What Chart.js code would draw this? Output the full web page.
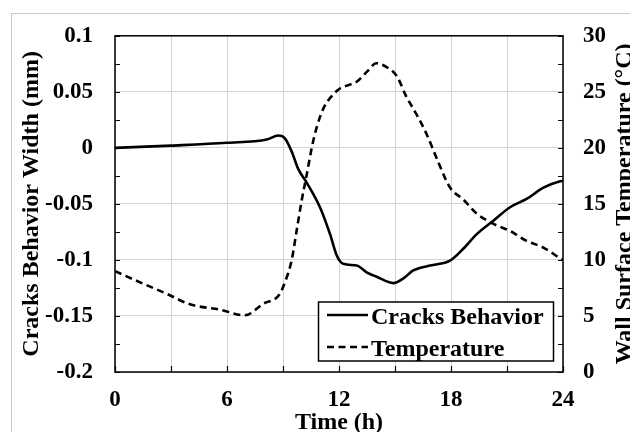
<!DOCTYPE html>
<html>
<head>
<meta charset="utf-8">
<script src="https://cdn.jsdelivr.net/npm/chart.js@4.4.1/dist/chart.umd.min.js"></script>
<style>
  html, body { margin: 0; padding: 0; background: #ffffff; }
  #wrap { width: 630px; height: 432px; }
</style>
</head>
<body>
<div id="wrap"><canvas id="c" width="630" height="432"></canvas></div>
<script>
// ---- Data ----
const crackHours = [0, 3, 6, 8.13, 8.75, 9.1, 9.46, 9.82, 10.27, 10.98, 11.52, 11.88, 12.23, 12.95, 13.48, 14.02, 14.91, 15.45, 15.98, 16.88, 17.95, 18.66, 19.38, 20.27, 21.16, 22.05, 22.95, 23.8, 24];
const crackWidth = [0, 0.002, 0.0045, 0.0075, 0.011, 0.0085, -0.003, -0.019, -0.031, -0.053, -0.077, -0.096, -0.1035, -0.105, -0.111, -0.115, -0.1207, -0.1165, -0.1094, -0.105, -0.1006, -0.09, -0.077, -0.065, -0.053, -0.0456, -0.0355, -0.030, -0.0295];

const tempHours = [0, 1.52, 2.77, 4.02, 5.63, 6.96, 7.95, 8.8, 9.1, 9.46, 9.73, 10.0, 10.27, 10.54, 10.8, 11.16, 11.6, 12.05, 12.5, 12.95, 13.5, 14.0, 14.55, 15.1, 15.6, 16.15, 16.7, 17.3, 17.95, 18.65, 19.4, 20.3, 21.15, 22.05, 22.95, 23.8, 24];
const temperature = [9.0, 7.87, 6.98, 6.04, 5.56, 5.06, 6.1, 6.9, 8.0, 9.94, 12.6, 15.3, 17.6, 20.0, 21.8, 23.5, 24.6, 25.3, 25.6, 25.9, 26.8, 27.55, 27.2, 26.4, 24.6, 23.0, 21.2, 18.8, 16.45, 15.4, 14.1, 13.2, 12.6, 11.7, 11.1, 10.2, 10.0];

const xTickLabels = ['0', '6', '12', '18', '24'];
const seriesNames = ['Cracks Behavior', 'Temperature'];
const axisTitles = { x: 'Time (h)', y: 'Cracks Behavior Width (mm)', y1: 'Wall Surface Temperature (°C)' };

// ---- Styling ----
const FONT_FAMILY = "'Liberation Serif', 'Times New Roman', serif";
const tickFont = { family: FONT_FAMILY, size: 23, weight: 'bold' };
const GRID = '#d3d3d3';

const crackPoints = crackHours.map((h, i) => ({ x: h, y: crackWidth[i] }));
const tempPoints = tempHours.map((h, i) => ({ x: h, y: temperature[i] }));

const decor = {
  id: 'decor',
  beforeDraw(chart) {
    const ctx = chart.ctx;
    ctx.save();
    ctx.fillStyle = '#ffffff';
    ctx.fillRect(0, 0, chart.width, chart.height);
    ctx.strokeStyle = '#c8c8c8';
    ctx.lineWidth = 1;
    ctx.strokeRect(11.5, 13.5, 800, 600);
    ctx.restore();
  },
  afterDraw(chart) {
    const ctx = chart.ctx;
    const a = chart.chartArea;
    const sx = chart.scales.x, sy = chart.scales.y, sy1 = chart.scales.y1;
    ctx.save();
    // plot border
    ctx.strokeStyle = '#000';
    ctx.lineWidth = 1.5;
    ctx.strokeRect(a.left, a.top, a.right - a.left, a.bottom - a.top);
    // inside tick marks
    ctx.lineWidth = 1.2;
    ctx.beginPath();
    for (let k = 0; k <= 12; k++) {
      const v = -0.2 + k * 0.025;
      const py = Math.round(sy.getPixelForValue(v)) + 0.5;
      ctx.moveTo(a.left, py); ctx.lineTo(a.left + 5, py);
    }
    for (let k = 0; k <= 12; k++) {
      const v = k * 2.5;
      const py = Math.round(sy1.getPixelForValue(v)) + 0.5;
      ctx.moveTo(a.right, py); ctx.lineTo(a.right - 5, py);
    }
    for (let k = 0; k <= 8; k++) {
      const px = Math.round(sx.getPixelForValue(k * 3)) + 0.5;
      ctx.moveTo(px, a.bottom); ctx.lineTo(px, a.bottom - 6);
    }
    ctx.stroke();

    // axis titles
    ctx.fillStyle = '#000';
    ctx.font = 'bold 24px ' + FONT_FAMILY;
    ctx.textAlign = 'center';
    ctx.textBaseline = 'alphabetic';
    ctx.fillText(axisTitles.x, (a.left + a.right) / 2, 429);
    ctx.save();
    ctx.translate(38, (a.top + a.bottom) / 2);
    ctx.rotate(-Math.PI / 2);
    ctx.fillText(axisTitles.y, 0, 0);
    ctx.restore();
    ctx.save();
    ctx.translate(631, (a.top + a.bottom) / 2);
    ctx.rotate(-Math.PI / 2);
    ctx.fillText(axisTitles.y1, 0, 0);
    ctx.restore();

    // legend
    const lx = 318.5, ly = 302, lw = 235, lh = 59;
    ctx.fillStyle = '#fff';
    ctx.fillRect(lx, ly, lw, lh);
    ctx.strokeStyle = '#000';
    ctx.lineWidth = 1.5;
    ctx.strokeRect(lx, ly, lw, lh);
    const rows = [315, 347];
    chart.data.datasets.forEach((ds, i) => {
      ctx.beginPath();
      ctx.lineWidth = ds.borderWidth;
      ctx.setLineDash(ds.borderDash || []);
      ctx.moveTo(327, rows[i]);
      ctx.lineTo(368, rows[i]);
      ctx.stroke();
      ctx.setLineDash([]);
      ctx.fillStyle = '#000';
      ctx.textAlign = 'left';
      ctx.textBaseline = 'alphabetic';
      ctx.font = 'bold 24px ' + FONT_FAMILY;
      ctx.fillText(ds.label, 371, rows[i] + 8.5);
    });
    ctx.restore();
  }
};

new Chart(document.getElementById('c'), {
  type: 'line',
  data: {
    datasets: [
      {
        label: seriesNames[0],
        data: crackPoints,
        yAxisID: 'y',
        borderColor: '#000',
        borderWidth: 2.6,
        pointRadius: 0,
        cubicInterpolationMode: 'monotone',
        fill: false
      },
      {
        label: seriesNames[1],
        data: tempPoints,
        yAxisID: 'y1',
        borderColor: '#000',
        borderWidth: 2.6,
        borderDash: [7, 4.5],
        pointRadius: 0,
        cubicInterpolationMode: 'monotone',
        fill: false
      }
    ]
  },
  options: {
    responsive: false,
    animation: false,
    devicePixelRatio: 1,
    layout: { padding: { top: 34, left: 0, right: 0, bottom: 0 } },
    plugins: { legend: { display: false }, tooltip: { enabled: false } },
    scales: {
      x: {
        type: 'linear',
        min: 0, max: 24,
        afterFit(s) { s.height = 60; },
        ticks: {
          stepSize: 3,
          autoSkip: false,
          maxRotation: 0,
          padding: 14,
          color: '#000',
          font: tickFont,
          callback: (v) => (v % 6 === 0 ? xTickLabels[v / 6] : '')
        },
        grid: { color: GRID, lineWidth: 1, drawTicks: false },
        border: { display: false }
      },
      y: {
        type: 'linear',
        position: 'left',
        min: -0.2, max: 0.1,
        afterFit(s) { s.width = 115; },
        ticks: {
          stepSize: 0.05,
          padding: 22,
          color: '#000',
          font: tickFont,
          callback: (v) => String(Math.round(v * 100) / 100)
        },
        grid: { color: GRID, lineWidth: 1, drawTicks: false },
        border: { display: false }
      },
      y1: {
        type: 'linear',
        position: 'right',
        min: 0, max: 30,
        afterFit(s) { s.width = 67; },
        ticks: {
          stepSize: 5,
          padding: 20,
          color: '#000',
          font: tickFont,
          callback: (v) => String(v)
        },
        grid: { drawOnChartArea: false, drawTicks: false },
        border: { display: false }
      }
    }
  },
  plugins: [decor]
});
</script>
</body>
</html>
